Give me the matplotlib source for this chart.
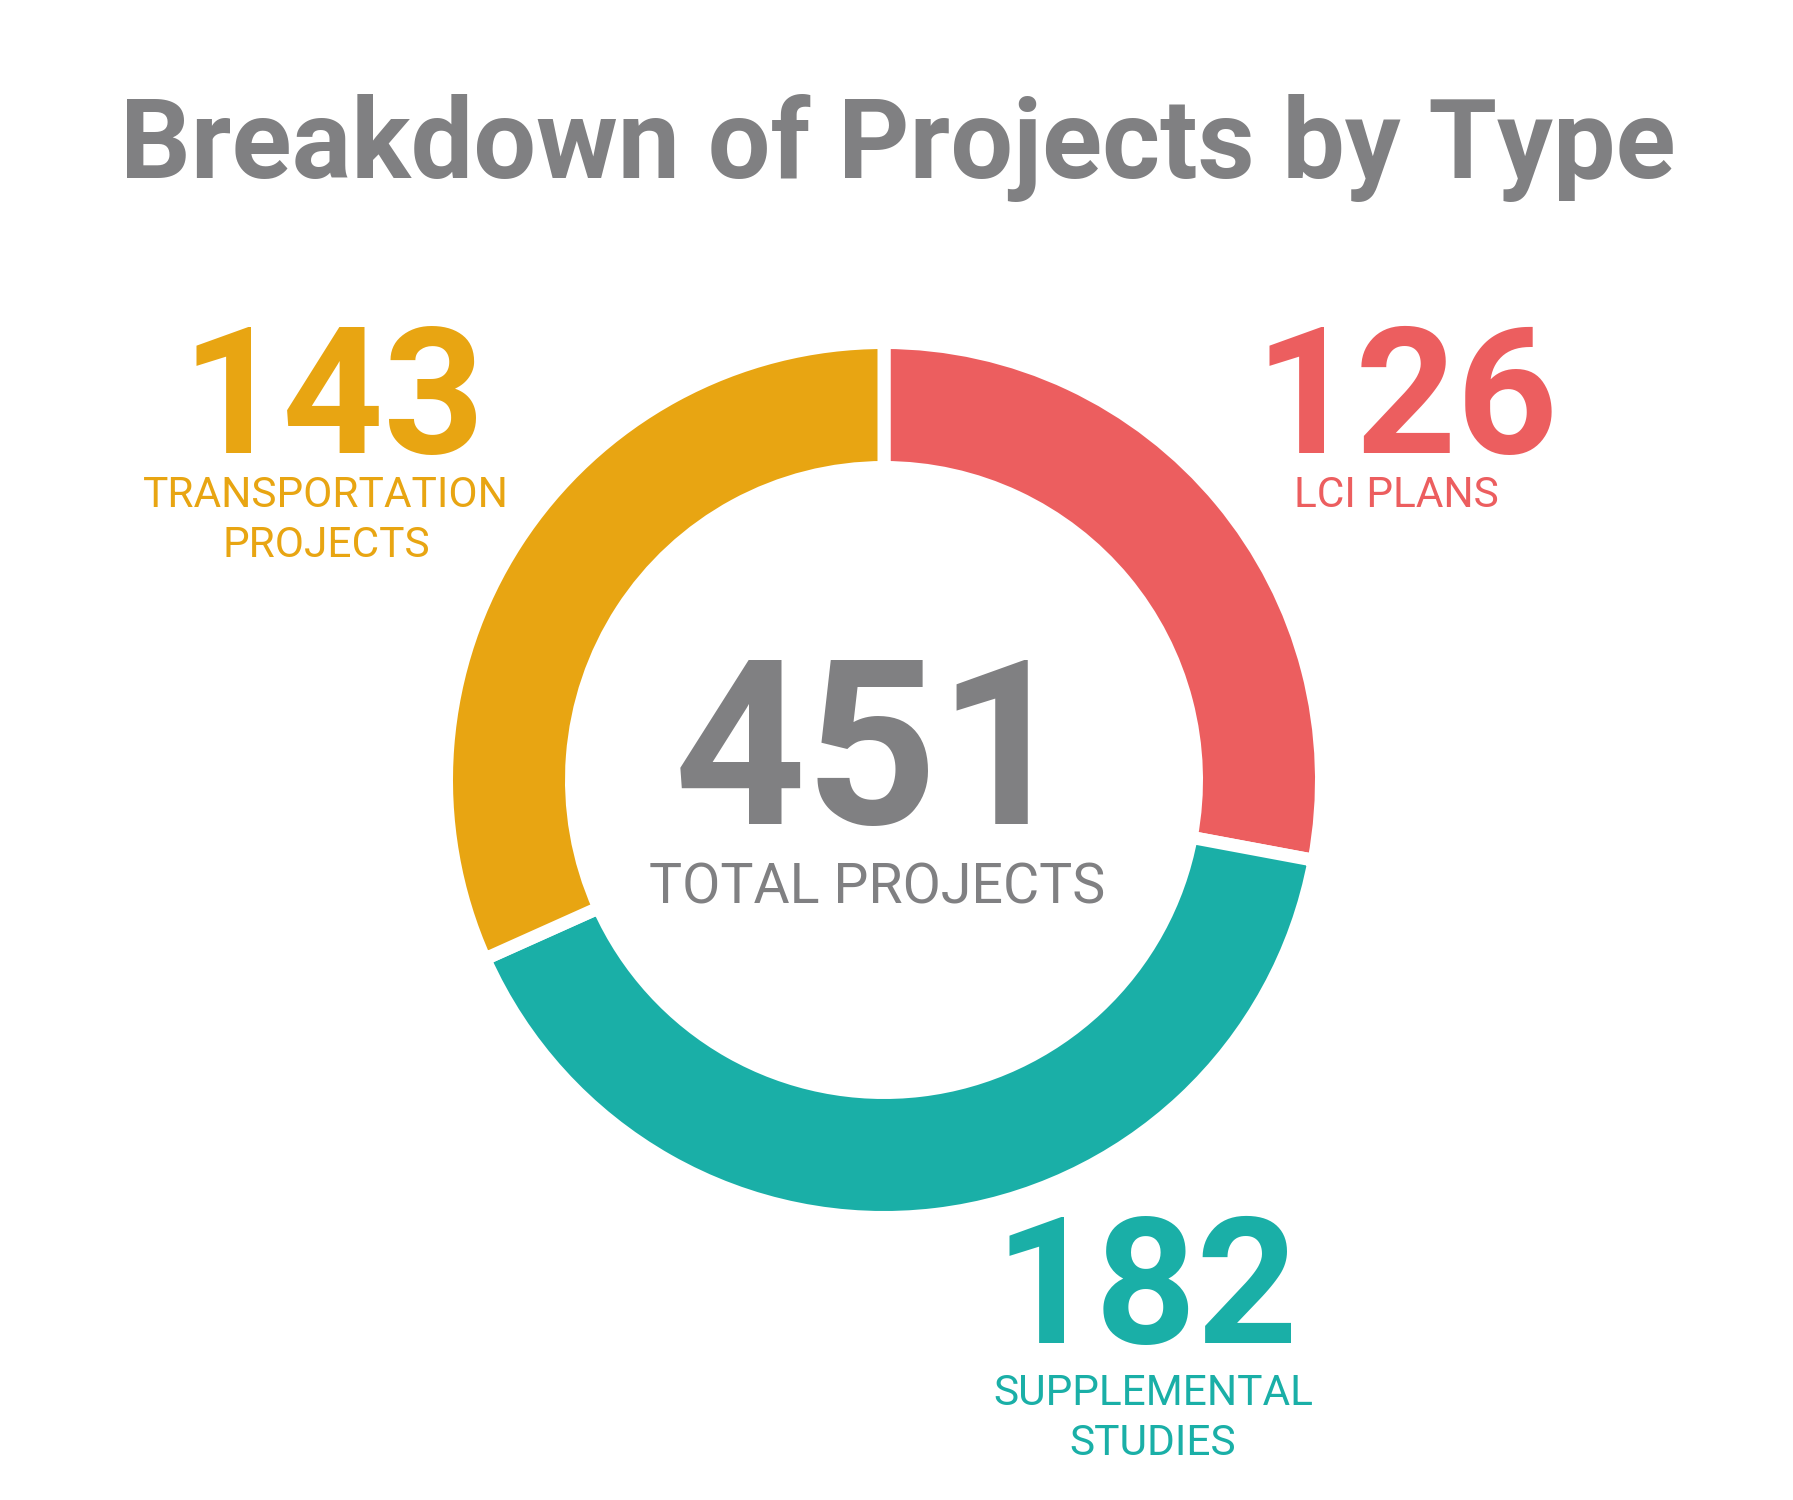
import matplotlib
matplotlib.use("Agg")
import matplotlib.pyplot as plt

# Data
categories = ["LCI PLANS", "SUPPLEMENTAL\nSTUDIES", "TRANSPORTATION\nPROJECTS"]
counts = [126, 182, 143]
colors = ["#EC5E5F", "#1AAFA7", "#E8A512"]
total = sum(counts)

GRAY = "#808082"
W, H = 1793, 1500

plt.rcParams['font.family'] = ['Roboto', 'DejaVu Sans']

fig = plt.figure(figsize=(W / 100, H / 100), dpi=100)
ax = fig.add_axes([0, 0, 1, 1])


def Y(y):
    # image row -> data y
    return H - y


# donut ring (white edges make the gaps)
gap = 13
cx, cy = 884, 780
r_out, r_in = 431, 319
ax.pie(counts, colors=colors, startangle=90, counterclock=False,
       center=(cx, Y(cy)), radius=r_out + gap / 2, frame=True,
       wedgeprops=dict(width=(r_out - r_in) + gap, edgecolor="white",
                       linewidth=gap * 0.72))
ax.set_xlim(0, W)
ax.set_ylim(0, H)
ax.set_aspect('equal')
ax.axis('off')

# title
ax.text(898, Y(178), "Breakdown of Projects by Type", color=GRAY,
        fontsize=80, fontweight='bold', ha='center', va='baseline')

# center total
ax.text(872, Y(824), str(total), color=GRAY, fontsize=166,
        fontweight='bold', ha='center', va='baseline')
ax.text(877, Y(904), "TOTAL PROJECTS", color=GRAY, fontsize=40,
        ha='center', va='baseline')

# value + label per segment
num_pos = [(1406, 453), (1146, 1343), (333, 453)]
lab_pos = [(1396, 507), (1153, 1405), (326, 507)]
line_step = 50
for n, lab, col, (nx, ny), (lx, ly) in zip(counts, categories, colors,
                                             num_pos, lab_pos):
    ax.text(nx, Y(ny), str(n), color=col, fontsize=127,
            fontweight='bold', ha='center', va='baseline')
    for i, line in enumerate(lab.split("\n")):
        ax.text(lx, Y(ly + i * line_step), line, color=col, fontsize=30.5,
                ha='center', va='baseline')

fig.savefig("out.png", dpi=100, facecolor="white")
